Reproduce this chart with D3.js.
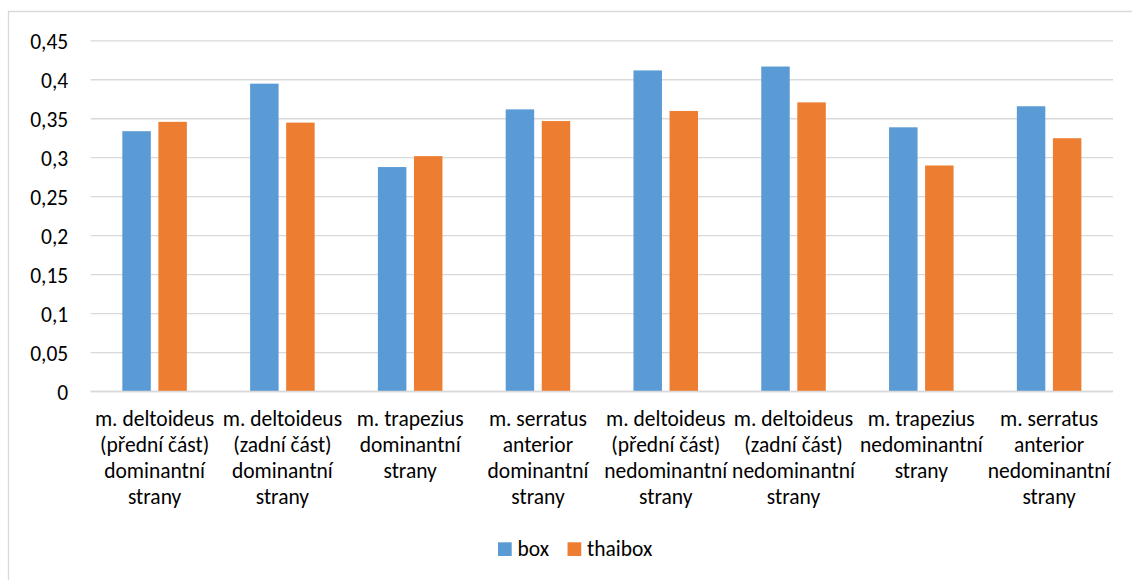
<!DOCTYPE html>
<html>
<head>
<meta charset="utf-8">
<script src="https://cdn.jsdelivr.net/npm/d3@7"></script>
<style>
  html, body { margin: 0; padding: 0; background: #fff; }
  svg { display: block; }
  text { font-family: Calibri, Carlito, Lato, "Liberation Sans", sans-serif; fill: #000; }
</style>
</head>
<body>
<svg id="chart" width="1132" height="580"></svg>
<script>
// Muscle groups (each label wraps onto several lines)
const categories = [
  ["m. deltoideus", "(přední část)", "dominantní", "strany"],
  ["m. deltoideus", "(zadní část)", "dominantní", "strany"],
  ["m. trapezius", "dominantní", "strany"],
  ["m. serratus", "anterior", "dominantní", "strany"],
  ["m. deltoideus", "(přední část)", "nedominantní", "strany"],
  ["m. deltoideus", "(zadní část)", "nedominantní", "strany"],
  ["m. trapezius", "nedominantní", "strany"],
  ["m. serratus", "anterior", "nedominantní", "strany"]
];
const seriesNames = ["box", "thaibox"];
const boxValues     = [0.334, 0.395, 0.288, 0.362, 0.412, 0.417, 0.339, 0.366];
const thaiboxValues = [0.346, 0.345, 0.302, 0.347, 0.360, 0.371, 0.290, 0.325];
const seriesColors = ["#5B9BD5", "#ED7D31"];
const yTickValues = [0, 0.05, 0.1, 0.15, 0.2, 0.25, 0.3, 0.35, 0.4, 0.45];
const yTickLabels = ["0", "0,05", "0,1", "0,15", "0,2", "0,25", "0,3", "0,35", "0,4", "0,45"];

const svg = d3.select("#chart");
const plot = { left: 90.7, right: 1113, top: 40.8, bottom: 391.5 };
const fontSize = 21.5;

// outer frame of the chart area
svg.append("path")
  .attr("d", `M8.5,580 V11.5 H1132`)
  .attr("fill", "none")
  .attr("stroke", "#D9D9D9")
  .attr("stroke-width", 1.3);

const keys = categories.map((c, i) => i);
const x0 = d3.scaleBand().domain(keys).range([plot.left, plot.right])
  .paddingInner(0.495).paddingOuter(0.2475);
const x1 = d3.scaleBand().domain(seriesNames).range([0, x0.bandwidth()])
  .paddingInner(0.21).paddingOuter(0);
const y = d3.scaleLinear().domain([0, 0.45]).range([plot.bottom, plot.top]);

// horizontal gridlines
svg.append("g")
  .selectAll("line")
  .data(yTickValues)
  .join("line")
  .attr("x1", plot.left).attr("x2", plot.right)
  .attr("y1", d => y(d)).attr("y2", d => y(d))
  .attr("stroke", "#D9D9D9")
  .attr("stroke-width", 1.3);

// y axis labels
const yAxis = d3.axisLeft(y)
  .tickValues(yTickValues)
  .tickFormat((d, i) => yTickLabels[i])
  .tickSize(0)
  .tickPadding(0);
const yg = svg.append("g")
  .attr("transform", `translate(${plot.left - 22.5},0)`)
  .call(yAxis);
yg.select(".domain").remove();
yg.selectAll("text")
  .attr("font-size", fontSize)
  .attr("font-family", null)
  .attr("fill", "#000")
  .attr("dy", "0.35em");

// bars
const rows = keys.map(i => ({ i, vals: [boxValues[i], thaiboxValues[i]] }));
const groups = svg.append("g").selectAll("g")
  .data(rows)
  .join("g")
  .attr("transform", d => `translate(${x0(d.i)},0)`);
groups.selectAll("rect")
  .data(d => d.vals.map((v, k) => ({ name: seriesNames[k], value: v, k })))
  .join("rect")
  .attr("x", d => x1(d.name))
  .attr("width", x1.bandwidth())
  .attr("y", d => y(d.value))
  .attr("height", d => y(0) - y(d.value))
  .attr("fill", d => seriesColors[d.k]);

// category axis baseline
svg.append("line")
  .attr("x1", plot.left).attr("x2", plot.right)
  .attr("y1", y(0)).attr("y2", y(0))
  .attr("stroke", "#D9D9D9")
  .attr("stroke-width", 1.3);

// category labels (multi-line)
const xAxis = d3.axisBottom(x0).tickSize(0).tickFormat("");
const xg = svg.append("g")
  .attr("transform", `translate(0,${plot.bottom})`)
  .call(xAxis);
xg.select(".domain").remove();
xg.selectAll(".tick").each(function(i) {
  const t = d3.select(this).append("text")
    .attr("text-anchor", "middle")
    .attr("font-size", fontSize)
    .attr("fill", "#000");
  categories[i].forEach((line, j) => {
    t.append("tspan")
      .attr("x", 0)
      .attr("y", 34.5 + j * 26)
      .text(line);
  });
});

// legend
const legend = svg.append("g").attr("transform", "translate(498,0)");
let lx = 0;
seriesNames.forEach((name, k) => {
  legend.append("rect")
    .attr("x", lx).attr("y", 542.3)
    .attr("width", 13.7).attr("height", 13.7)
    .attr("fill", seriesColors[k]);
  const txt = legend.append("text")
    .attr("x", lx + 19.5).attr("y", 555.5)
    .attr("font-size", fontSize)
    .text(name);
  lx += 19.5 + txt.node().getComputedTextLength() + 18.5;
});
</script>
</body>
</html>
